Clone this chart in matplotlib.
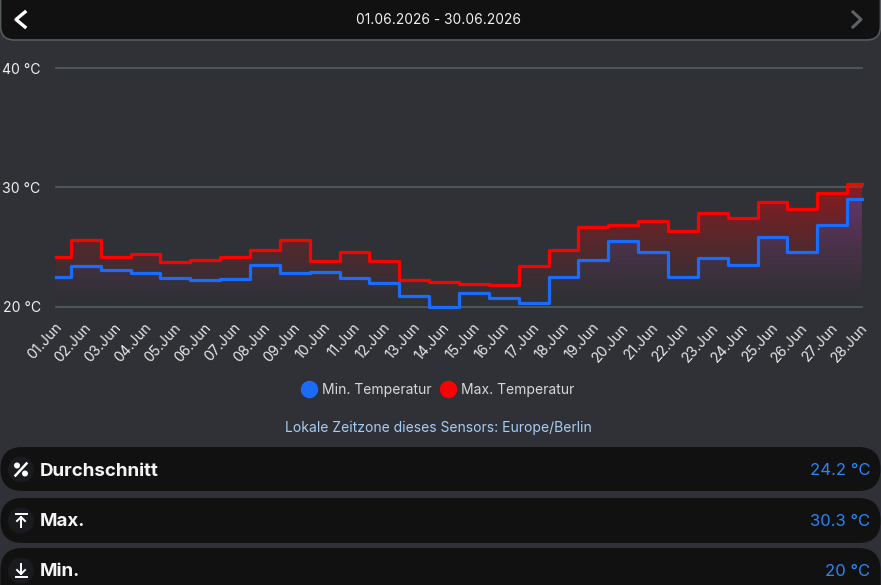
import numpy as np
import matplotlib
matplotlib.use('Agg')
import matplotlib.pyplot as plt
from matplotlib.lines import Line2D
from matplotlib.patches import FancyBboxPatch, Circle
from matplotlib.transforms import Affine2D

plt.rcParams['font.family'] = ['Inter', 'DejaVu Sans']

# Values
days = ['01.Jun', '02.Jun', '03.Jun', '04.Jun', '05.Jun', '06.Jun', '07.Jun',
        '08.Jun', '09.Jun', '10.Jun', '11.Jun', '12.Jun', '13.Jun', '14.Jun',
        '15.Jun', '16.Jun', '17.Jun', '18.Jun', '19.Jun', '20.Jun', '21.Jun',
        '22.Jun', '23.Jun', '24.Jun', '25.Jun', '26.Jun', '27.Jun', '28.Jun']
temp_min = [22.47, 23.4, 23.1, 22.8, 22.4, 22.25, 22.33, 23.5, 22.8, 22.9,
            22.4, 21.97, 20.9, 20.0, 21.13, 20.74, 20.32, 22.5, 23.93, 25.5,
            24.6, 22.47, 24.1, 23.48, 25.83, 24.6, 26.8, 29.0]
temp_max = [24.15, 25.55, 24.15, 24.4, 23.7, 23.9, 24.15, 24.7, 25.55, 23.85,
            24.6, 23.85, 22.25, 22.05, 21.9, 21.8, 23.4, 24.7, 26.67, 26.85,
            27.2, 26.3, 27.8, 27.45, 28.8, 28.2, 29.55, 30.3]
y_ticks = [20, 30, 40]
y_tick_labels = ['20 °C', '30 °C', '40 °C']
date_range = '01.06.2026 - 30.06.2026'
legend_labels = ['Min. Temperatur', 'Max. Temperatur']
timezone_note = 'Lokale Zeitzone dieses Sensors: Europe/Berlin'
stat_names = ['Durchschnitt', 'Max.', 'Min.']
stat_values = ['24.2 °C', '30.3 °C', '20 °C']

W, H = 881, 585
BG = '#303136'
PANEL = '#111112'
BLUE = '#1a6cff'
RED = '#ff0000'

fig = plt.figure(figsize=(W / 100, H / 100), dpi=100, facecolor=BG)

# page furniture is drawn in pixel coordinates
page = fig.add_axes([0, 0, 1, 1])
page.set_xlim(0, W)
page.set_ylim(H, 0)
page.axis('off')


def panel(y0, y1, radius, edge='none'):
    page.add_patch(FancyBboxPatch((0.5, y0), W - 1, y1 - y0,
                                  boxstyle=f'round,pad=0,rounding_size={radius}',
                                  fc=PANEL, ec=edge, lw=1.2, mutation_aspect=1))


# header
panel(-20, 40, 14, edge='#565b5e')
page.plot([25, 16, 25], [12, 19.5, 27], color='white', lw=2.4)
page.plot([853, 861, 853], [12, 19.5, 27], color='#5d6368', lw=2.2)
page.text(438.5, 19.5, date_range, color='#f0f0f0', fontsize=9.9, ha='center', va='center')

# chart
x = np.arange(len(days))
left, right = 56, 862
top, bottom = 68, 306.5
ax = fig.add_axes([left / W, 1 - bottom / H, (right - left) / W, (bottom - top) / H])
ax.patch.set_alpha(0)
for s in ax.spines.values():
    s.set_visible(False)

for t in y_ticks:
    ax.axhline(t, color='#52605f', lw=1.2, zorder=1, clip_on=False)


def gradient_fill(values, rgb, alpha_top):
    poly = ax.fill_between(x, 20, values, step='mid', color='none')
    # alpha fades out towards the bottom of the plot, faster near the bottom
    alpha = alpha_top * np.linspace(1.0, 0.0, 256)[:, None] ** 1.4
    img = np.zeros((256, 1, 4))
    img[..., 0], img[..., 1], img[..., 2] = rgb
    img[..., 3] = alpha
    im = ax.imshow(img, extent=(0, len(days) - 1, 20, 30.5), aspect='auto',
                   origin='upper', zorder=2)
    im.set_clip_path(poly.get_paths()[0], transform=ax.transData)


gradient_fill(temp_max, (1.0, 0.0, 0.0), 0.48)
gradient_fill(temp_min, (0.10, 0.42, 1.0), 0.40)
ax.set_xlim(0, len(days) - 1)
ax.set_ylim(20, 40)

ax.step(x, temp_max, where='mid', color=RED, lw=2.3, zorder=3, clip_on=False)
ax.step(x, temp_min, where='mid', color=BLUE, lw=2.3, zorder=4, clip_on=False)

ax.set_yticks(y_ticks)
ax.set_yticklabels(y_tick_labels, color='#f0f0f0', fontsize=10.1)
ax.set_xticks(x)
ax.set_xticklabels(days, color='#e8e8e8', fontsize=10.3, rotation=48, ha='right',
                   rotation_mode='anchor')
ax.tick_params(axis='both', length=0)
ax.tick_params(axis='y', pad=11)
ax.tick_params(axis='x', pad=10)
for label in ax.get_xticklabels():
    label.set_transform(label.get_transform() + Affine2D().translate(-2, 0))

# legend
handles = [Line2D([], [], ls='none', marker='o', ms=11.5, mfc=BLUE, mec=BLUE),
           Line2D([], [], ls='none', marker='o', ms=11.5, mfc=RED, mec=RED)]
fig.legend(handles, legend_labels, loc='center', bbox_to_anchor=(438 / W, 1 - 390 / H),
           ncol=2, frameon=False, fontsize=10, labelcolor='#d8d8d8', handlelength=1.0,
           handletextpad=0.43, columnspacing=0.72)

page.text(438.5, 428, timezone_note, color='#a6cdf5', fontsize=10, ha='center', va='center')

# statistic rows
rows = [(447, 491, 469.5), (498, 543, 520.5), (548, 607, 570.5)]
for (y0, y1, yc), name, value in zip(rows, stat_names, stat_values):
    panel(y0, y1, 22)
    page.add_patch(Circle((21, yc), 13, fc='#1a1b1f', ec='none'))
    page.text(40, yc + 1.5, name, color='#f4f4f4', fontsize=13.5, fontweight='bold', va='center')
    page.text(870, yc + 1, value, color='#2a86f5', fontsize=12, ha='right', va='center')

# row icons
y = rows[0][2]
page.plot([15.5, 26.5], [y + 6, y - 6], color='white', lw=1.8)
page.add_patch(Circle((17, y - 4), 3, fc='white', ec='none'))
page.add_patch(Circle((25, y + 4), 3, fc='white', ec='none'))
y = rows[1][2]
page.plot([15.5, 26.5], [y - 6.5, y - 6.5], color='white', lw=1.4)
page.plot([21, 21], [y + 6.5, y - 3.5], color='white', lw=1.4)
page.plot([17, 21, 25], [y + 0.5, y - 3.5, y + 0.5], color='white', lw=1.4)
y = rows[2][2]
page.plot([15.5, 26.5], [y + 6.5, y + 6.5], color='white', lw=1.4)
page.plot([21, 21], [y - 6.5, y + 3.5], color='white', lw=1.4)
page.plot([17, 21, 25], [y - 0.5, y + 3.5, y - 0.5], color='white', lw=1.4)

fig.savefig('out.png', dpi=100, facecolor=BG)
